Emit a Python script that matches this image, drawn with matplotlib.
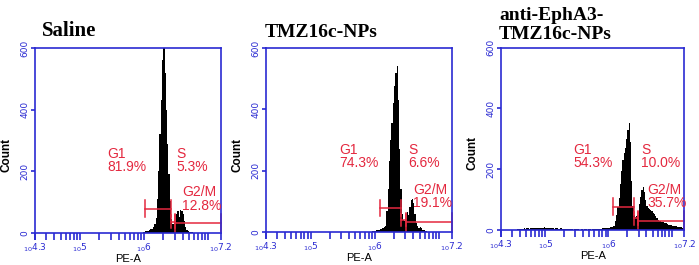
import numpy as np
import matplotlib
matplotlib.use('Agg')
import matplotlib.pyplot as plt
from matplotlib.ticker import FixedLocator, FixedFormatter, NullFormatter

# panel titles and phase labels
titles = ['Saline', 'TMZ16c-NPs', 'anti-EphA3-\nTMZ16c-NPs']
phases = ['G1', 'S', 'G2/M']
pcts = [['81.9%', '5.3%', '12.8%'],
        ['74.3%', '6.6%', '19.1%'],
        ['54.3%', '10.0%', '35.7%']]

# histogram bins are 0.02 wide in log10(PE-A)
bin_w = 0.02

saline_start = 5.98
saline_counts = [2, 3, 5, 6, 8, 10, 12, 14, 18, 28,
                 50, 110, 200, 320, 430, 560, 640, 520, 400, 290,
                 190, 105, 45, 30, 35, 28, 62, 70, 52, 75,
                 70, 62, 40, 18, 10, 7, 4, 3, 2]

tmz_start = 5.96
tmz_counts = [2, 3, 4, 5, 6, 8, 9, 10, 12, 15,
              20, 70, 140, 230, 300, 355, 420, 475, 520, 540,
              430, 270, 140, 60, 38, 36, 42, 66, 55, 80,
              105, 108, 95, 60, 28, 18, 14, 17, 12, 8,
              5, 3, 2]

epha3_start = 4.50
epha3_counts = [0, 1, 1, 2, 2, 3, 4, 3, 5, 4,
                5, 6, 4, 7, 5, 6, 8, 6, 5, 7,
                6, 8, 7, 6, 9, 7, 6, 5, 7, 6,
                5, 6, 4, 5, 6, 3, 4, 5, 4, 3,
                3, 2, 4, 3, 2, 3, 2, 1, 3, 2,
                2, 3, 1, 2, 2, 1, 3, 2, 1, 2,
                2, 1, 2, 3, 2, 2, 3, 2, 3, 4,
                5, 5, 6, 6, 7, 8, 9, 10, 11, 14,
                30, 50, 75, 105, 150, 195, 230, 255, 270, 300,
                330, 353, 290, 160, 80, 48, 44, 45, 48, 85,
                110, 130, 142, 125, 100, 80, 72, 68, 66, 62,
                56, 52, 47, 40, 34, 31, 29, 27, 26, 24,
                22, 20, 18, 16, 15, 14, 13, 12, 12, 11,
                11, 10, 9, 8, 7]

starts = [saline_start, tmz_start, epha3_start]
counts = [saline_counts, tmz_counts, epha3_counts]

# gate markers (log10 limits and height in counts)
gate_lo = [[6.02, 6.42, 6.48], [6.09, 6.41, 6.49], [6.07, 6.40, 6.47]]
gate_hi = [[6.42, 6.48, 7.2], [6.41, 6.49, 7.2], [6.40, 6.47, 7.2]]
gate_y = [[79, 37, 32], [78, 39, 32], [77, 38, 31]]
gate_half = [27, 20, 30]

blue = '#2a2ad2'
red = '#e4283f'

fig = plt.figure(figsize=(6.99, 2.65), dpi=100)
rects = [[0.0501, 0.1208, 0.2661, 0.698],
         [0.3801, 0.1245, 0.2661, 0.6943],
         [0.7167, 0.1321, 0.2622, 0.688]]
txt_pos = [[(0.389, 0.466), (0.758, 0.466), (0.789, 0.259)],
           [(0.398, 0.485), (0.765, 0.485), (0.792, 0.268)],
           [(0.394, 0.479), (0.764, 0.479), (0.800, 0.260)]]
title_x = [0.038, -0.005, -0.011]
title_y = [1.04, 1.04, 1.025]
title_size = [15, 14, 14]

minor = [k * 10.0**e for e in (4, 5, 6) for k in range(1, 10)] + [1e7]
minor = [m for m in minor if 10**4.3 < m < 10**7.2]

for i in range(3):
    ax = fig.add_axes(rects[i])
    c = counts[i]
    edges = 10 ** (starts[i] + bin_w * np.arange(len(c) + 1))
    ax.stairs(c, edges, fill=True, color='black', lw=0)

    ax.set_xscale('log')
    ax.set_xlim(10**4.3, 10**7.2)
    ax.set_ylim(0, 600)

    for s in ax.spines.values():
        s.set_color(blue)
        s.set_linewidth(1.2)

    ax.xaxis.set_major_locator(FixedLocator([10**4.3, 1e5, 1e6, 10**7.2]))
    ax.xaxis.set_major_formatter(FixedFormatter(
        [r'${}_{10}$4.3', r'${}_{10}$5', r'${}_{10}$6', r'${}_{10}$7.2']))
    ax.xaxis.set_minor_locator(FixedLocator(minor))
    ax.xaxis.set_minor_formatter(NullFormatter())
    ax.tick_params(axis='x', which='both', direction='out', length=5,
                   width=1.2, color=blue, labelcolor=blue, labelsize=6.5, pad=1)

    ax.set_yticks([0, 200, 400, 600])
    ax.tick_params(axis='y', direction='out', length=3, width=1.2,
                   color=blue, labelcolor=blue, labelsize=6.5, pad=1)
    for lab in ax.get_yticklabels():
        lab.set_rotation(90)
        lab.set_va('center')

    ax.set_xlabel('PE-A', fontsize=8, family='Liberation Sans', labelpad=0)
    ax.set_ylabel('Count', fontsize=8.5, family='Liberation Sans', fontweight='bold')
    ax.yaxis.set_label_coords(-0.12, 0.42)

    # gates
    for j in range(3):
        lo = 10 ** gate_lo[i][j]
        hi = 10 ** gate_hi[i][j]
        y = gate_y[i][j]
        h = gate_half[j]
        ax.plot([lo, hi], [y, y], color=red, lw=1.1, clip_on=False)
        ax.plot([lo, lo], [y - h, y + h], color=red, lw=1.1, clip_on=False)
        ax.plot([hi, hi], [y - h, y + h], color=red, lw=1.1, clip_on=False)

    for j in range(3):
        tx, ty = txt_pos[i][j]
        ax.text(tx, ty, phases[j] + '\n' + pcts[i][j], transform=ax.transAxes,
                color=red, fontsize=10, family='Liberation Sans',
                va='top', ha='left', linespacing=0.95)

    ax.text(title_x[i], title_y[i], titles[i], transform=ax.transAxes,
            fontsize=title_size[i], fontweight='bold', family='Liberation Serif',
            va='bottom', ha='left', linespacing=1.15)

fig.savefig('out.png', dpi=100)
